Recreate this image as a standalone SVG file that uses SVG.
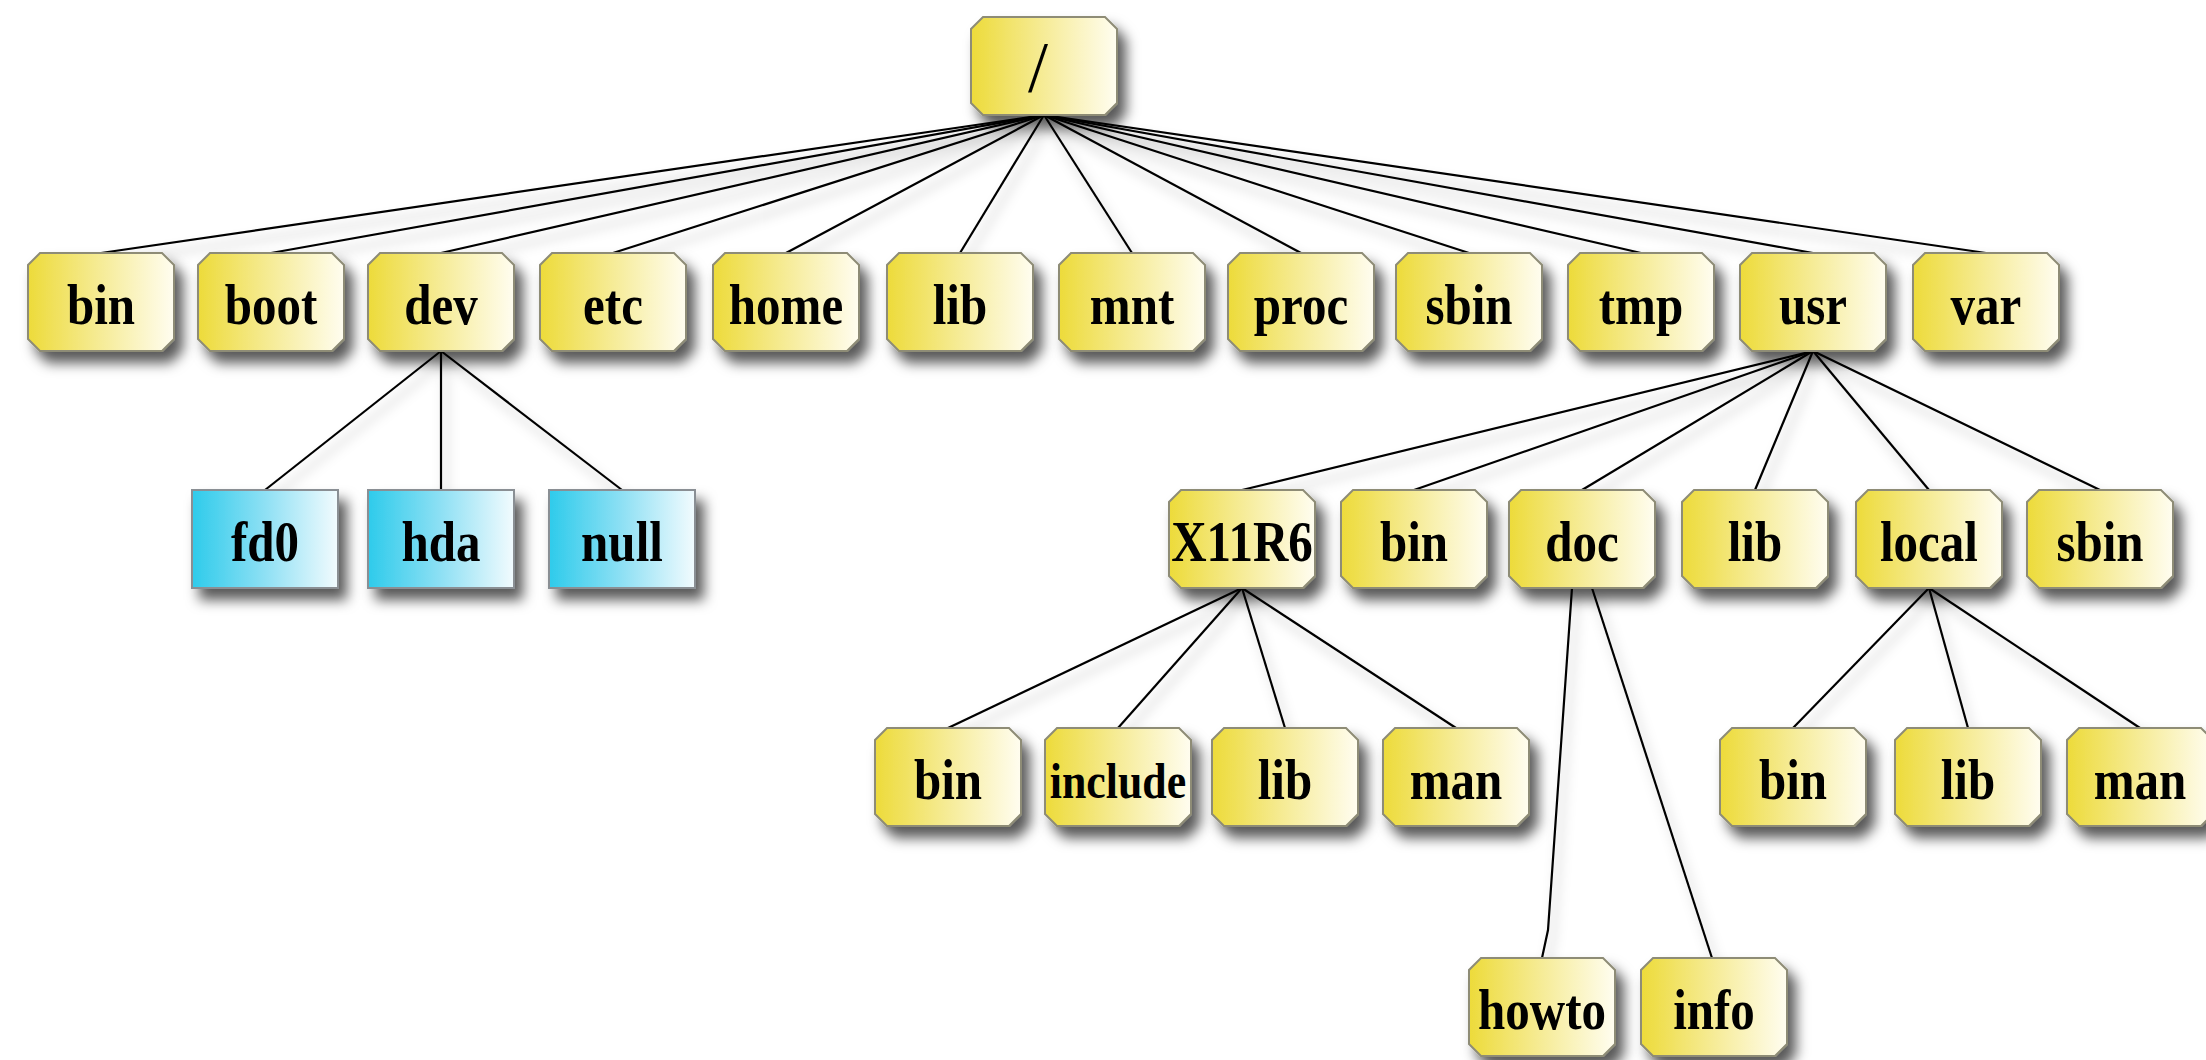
<svg xmlns="http://www.w3.org/2000/svg" xmlns:xlink="http://www.w3.org/1999/xlink" width="2206" height="1060" viewBox="0 0 2206 1060">
<defs>
<linearGradient id="gy" x1="0" y1="0" x2="1" y2="0">
<stop offset="0" stop-color="#EDDB3A"/>
<stop offset="0.45" stop-color="#F5EA8E"/>
<stop offset="1" stop-color="#FFFDF0"/>
</linearGradient>
<linearGradient id="gb" x1="0" y1="0" x2="1" y2="0">
<stop offset="0" stop-color="#2ECBEB"/>
<stop offset="0.5" stop-color="#8EE0F4"/>
<stop offset="1" stop-color="#F2FBFE"/>
</linearGradient>
<filter id="sh" x="-20%" y="-20%" width="150%" height="170%">
<feDropShadow dx="8" dy="11" stdDeviation="6.5" flood-color="#000" flood-opacity="0.65"/>
</filter>
<filter id="lsh" x="-10%" y="-10%" width="120%" height="130%">
<feDropShadow dx="5" dy="9" stdDeviation="6" flood-color="#000" flood-opacity="0.3"/>
</filter>
<path id="oct" d="M12,0 H134 L146,12 V86 L134,98 H12 L0,86 V12 Z"/>
<rect id="rct" width="146" height="98"/>
</defs>
<style>
.y{fill:url(#gy);stroke:#8E8C76;stroke-width:2;filter:url(#sh)}
.b{fill:url(#gb);stroke:#8A8F94;stroke-width:2;filter:url(#sh)}
text{font-family:"Liberation Serif","Times New Roman",serif;font-weight:bold;font-size:57px;fill:#000;text-anchor:middle;transform-box:fill-box;transform-origin:center;transform:scaleX(0.86)}
text.root{font-weight:normal;font-size:72px;transform:none}
text.sm{font-size:51px}
#edges line,#edges path{stroke:#000;stroke-width:2.2;fill:none}
#edges{filter:url(#lsh)}
</style>
<rect width="2206" height="1060" fill="#fff"/>
<g id="edges">
<line x1="1044" y1="115" x2="101" y2="253"/>
<line x1="1044" y1="115" x2="271" y2="253"/>
<line x1="1044" y1="115" x2="441" y2="253"/>
<line x1="1044" y1="115" x2="613" y2="253"/>
<line x1="1044" y1="115" x2="786" y2="253"/>
<line x1="1044" y1="115" x2="960" y2="253"/>
<line x1="1044" y1="115" x2="1132" y2="253"/>
<line x1="1044" y1="115" x2="1301" y2="253"/>
<line x1="1044" y1="115" x2="1469" y2="253"/>
<line x1="1044" y1="115" x2="1641" y2="253"/>
<line x1="1044" y1="115" x2="1813" y2="253"/>
<line x1="1044" y1="115" x2="1986" y2="253"/>
<line x1="441" y1="351" x2="265" y2="490"/>
<line x1="441" y1="351" x2="441" y2="490"/>
<line x1="441" y1="351" x2="622" y2="490"/>
<line x1="1813" y1="351" x2="1242" y2="490"/>
<line x1="1813" y1="351" x2="1414" y2="490"/>
<line x1="1813" y1="351" x2="1582" y2="490"/>
<line x1="1813" y1="351" x2="1755" y2="490"/>
<line x1="1813" y1="351" x2="1929" y2="490"/>
<line x1="1813" y1="351" x2="2100" y2="490"/>
<line x1="1242" y1="588" x2="948" y2="728"/>
<line x1="1242" y1="588" x2="1118" y2="728"/>
<line x1="1242" y1="588" x2="1285" y2="728"/>
<line x1="1242" y1="588" x2="1456" y2="728"/>
<path d="M1572,588 L1548,930 L1542,958"/>
<line x1="1592" y1="588" x2="1712" y2="958"/>
<line x1="1929" y1="588" x2="1793" y2="728"/>
<line x1="1929" y1="588" x2="1968" y2="728"/>
<line x1="1929" y1="588" x2="2140" y2="728"/>
</g>
<g id="n_root"><use href="#oct" x="971" y="17" class="y"/><text class="root" x="1038" y="91">/</text></g>
<g id="n_bin"><use href="#oct" x="28" y="253" class="y"/><text x="101" y="324">bin</text></g>
<g id="n_boot"><use href="#oct" x="198" y="253" class="y"/><text x="271" y="324">boot</text></g>
<g id="n_dev"><use href="#oct" x="368" y="253" class="y"/><text x="441" y="324">dev</text></g>
<g id="n_etc"><use href="#oct" x="540" y="253" class="y"/><text x="613" y="324">etc</text></g>
<g id="n_home"><use href="#oct" x="713" y="253" class="y"/><text x="786" y="324">home</text></g>
<g id="n_lib"><use href="#oct" x="887" y="253" class="y"/><text x="960" y="324">lib</text></g>
<g id="n_mnt"><use href="#oct" x="1059" y="253" class="y"/><text x="1132" y="324">mnt</text></g>
<g id="n_proc"><use href="#oct" x="1228" y="253" class="y"/><text x="1301" y="324">proc</text></g>
<g id="n_sbin"><use href="#oct" x="1396" y="253" class="y"/><text x="1469" y="324">sbin</text></g>
<g id="n_tmp"><use href="#oct" x="1568" y="253" class="y"/><text x="1641" y="324">tmp</text></g>
<g id="n_usr"><use href="#oct" x="1740" y="253" class="y"/><text x="1813" y="324">usr</text></g>
<g id="n_var"><use href="#oct" x="1913" y="253" class="y"/><text x="1986" y="324">var</text></g>
<g id="n_fd0"><use href="#rct" x="192" y="490" class="b"/><text x="265" y="561">fd0</text></g>
<g id="n_hda"><use href="#rct" x="368" y="490" class="b"/><text x="441" y="561">hda</text></g>
<g id="n_null"><use href="#rct" x="549" y="490" class="b"/><text x="622" y="561">null</text></g>
<g id="n_x11r6"><use href="#oct" x="1169" y="490" class="y"/><text x="1242" y="561">X11R6</text></g>
<g id="n_usr_bin"><use href="#oct" x="1341" y="490" class="y"/><text x="1414" y="561">bin</text></g>
<g id="n_doc"><use href="#oct" x="1509" y="490" class="y"/><text x="1582" y="561">doc</text></g>
<g id="n_usr_lib"><use href="#oct" x="1682" y="490" class="y"/><text x="1755" y="561">lib</text></g>
<g id="n_local"><use href="#oct" x="1856" y="490" class="y"/><text x="1929" y="561">local</text></g>
<g id="n_usr_sbin"><use href="#oct" x="2027" y="490" class="y"/><text x="2100" y="561">sbin</text></g>
<g id="n_x_bin"><use href="#oct" x="875" y="728" class="y"/><text x="948" y="799">bin</text></g>
<g id="n_x_include"><use href="#oct" x="1045" y="728" class="y"/><text class="sm" x="1118" y="798">include</text></g>
<g id="n_x_lib"><use href="#oct" x="1212" y="728" class="y"/><text x="1285" y="799">lib</text></g>
<g id="n_x_man"><use href="#oct" x="1383" y="728" class="y"/><text x="1456" y="799">man</text></g>
<g id="n_l_bin"><use href="#oct" x="1720" y="728" class="y"/><text x="1793" y="799">bin</text></g>
<g id="n_l_lib"><use href="#oct" x="1895" y="728" class="y"/><text x="1968" y="799">lib</text></g>
<g id="n_l_man"><use href="#oct" x="2067" y="728" class="y"/><text x="2140" y="799">man</text></g>
<g id="n_howto"><use href="#oct" x="1469" y="958" class="y"/><text x="1542" y="1029">howto</text></g>
<g id="n_info"><use href="#oct" x="1641" y="958" class="y"/><text x="1714" y="1029">info</text></g>
</svg>
